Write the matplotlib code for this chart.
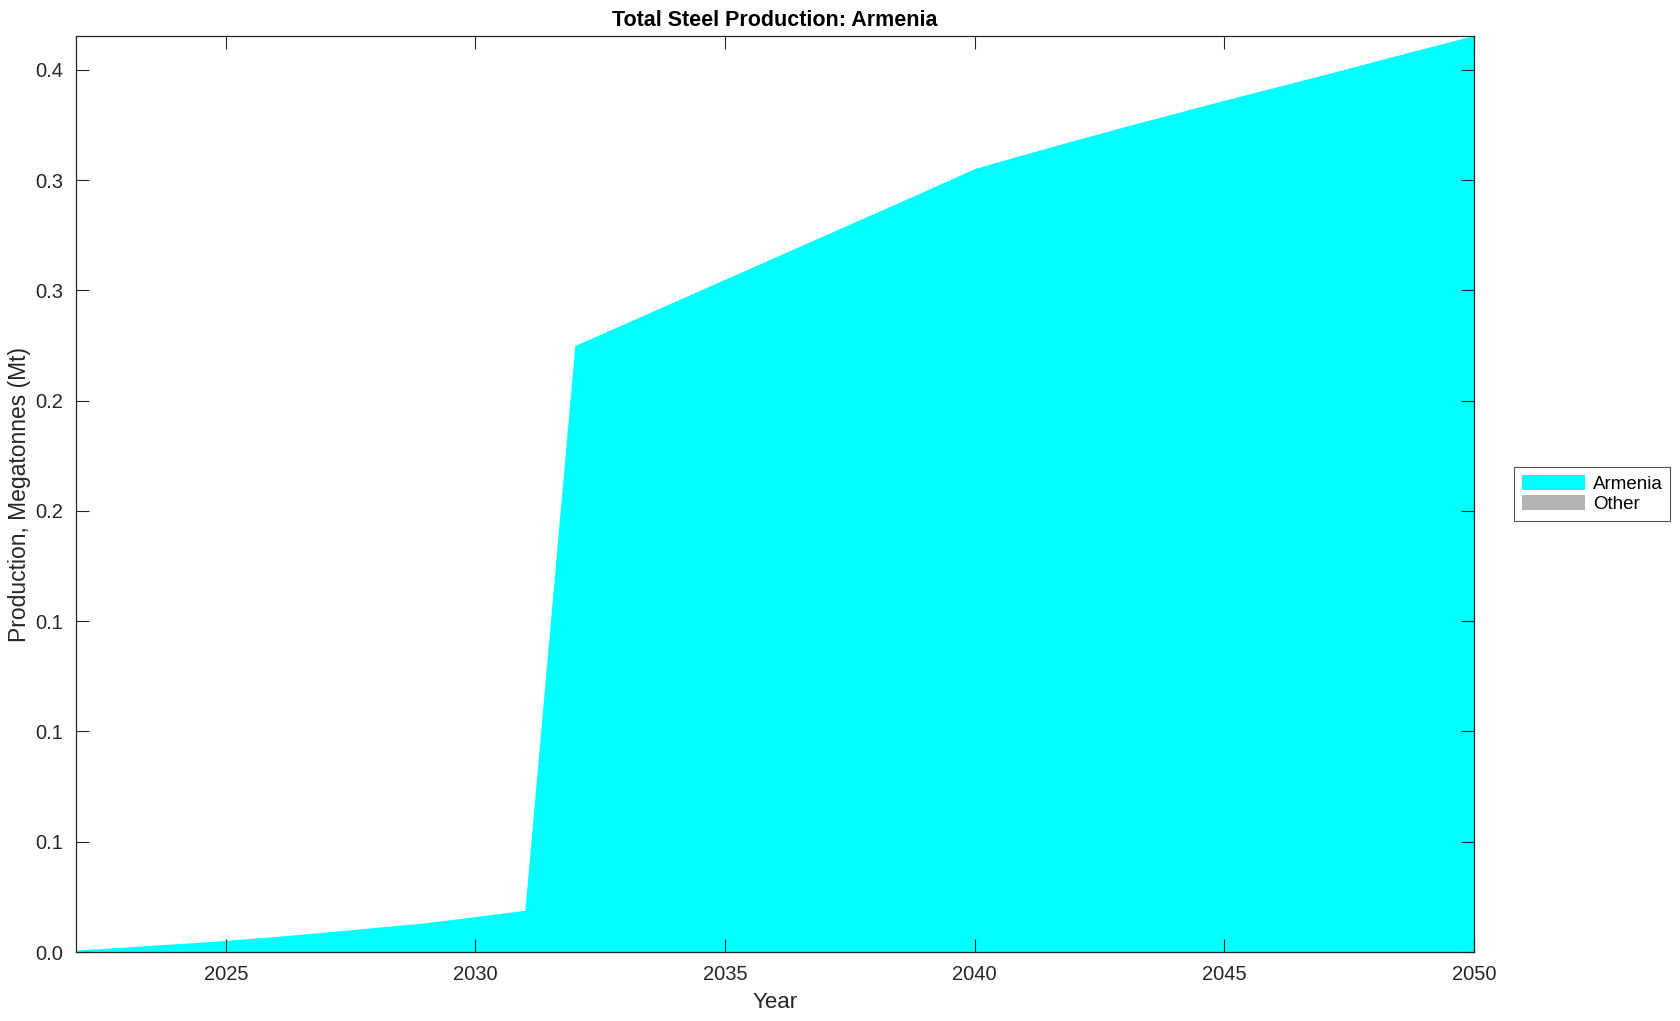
import numpy as np
import matplotlib
matplotlib.use("Agg")
from matplotlib import pyplot as plt

# donnees
years = list(range(2022, 2051))
armenia = [0.0006, 0.0020, 0.0035, 0.0050, 0.0068, 0.0088, 0.0109, 0.0130, 0.0158, 0.0187,
           0.2748, 0.2848, 0.2948, 0.3048, 0.3148, 0.3248, 0.3348, 0.3448, 0.3550,
           0.3615, 0.3678, 0.3740, 0.3800, 0.3860, 0.3918, 0.3976, 0.4036, 0.4095, 0.4154]
other = [0.0] * len(years)
series_names = ["Armenia", "Other"]
series_colors = ["#00ffff", "#b3b3b3"]

xticks = [2025, 2030, 2035, 2040, 2045, 2050]
yticks = [0.0, 0.05, 0.10, 0.15, 0.20, 0.25, 0.30, 0.35, 0.40]
ytick_labels = ["0.0", "0.1", "0.1", "0.1", "0.2", "0.2", "0.3", "0.3", "0.4"]

plt.rcParams['font.family'] = ['Liberation Sans', 'DejaVu Sans']

fig = plt.figure(figsize=(16.8, 10.21), dpi=100)
ax = fig.add_axes([76/1680, 1 - 952/1021, (1474 - 76)/1680, (952 - 36)/1021])

polys = ax.stackplot(years, armenia, other, colors=series_colors, labels=series_names, linewidth=0)

ax.set_xlim(years[0], years[-1])
ax.set_ylim(0, max(armenia))
ax.set_xticks(xticks)
ax.set_yticks(yticks)
ax.set_yticklabels(ytick_labels)
ax.tick_params(direction='in', top=True, right=True, length=9.5, width=0.8,
               labelsize=14.5, colors='#262626', pad=9)
for s in ax.spines.values():
    s.set_linewidth(0.9)
    s.set_color('#262626')
    s.set_zorder(5)

ax.set_title('Total Steel Production: Armenia', fontsize=15.5, fontweight='bold', pad=7)
ax.set_xlabel('Year', fontsize=16, color='#262626', labelpad=6)
ax.set_ylabel('Production, Megatonnes (Mt)', fontsize=16.5, color='#262626', labelpad=3)

leg = fig.legend(loc='center left', bbox_to_anchor=(1514/1680, 1 - 494/1021),
                 fontsize=13.5, frameon=True, fancybox=False, edgecolor='#262626',
                 handlelength=3.4, handleheight=0.85, handletextpad=0.4,
                 borderpad=0.4, labelspacing=0.15, borderaxespad=0)
leg.get_frame().set_linewidth(0.8)

plt.savefig('out.png', dpi=100)
